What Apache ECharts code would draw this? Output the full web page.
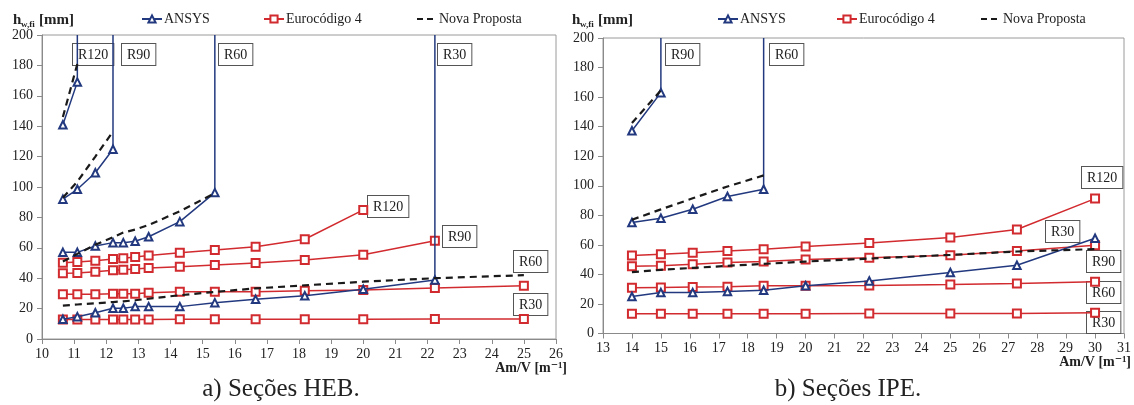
<!DOCTYPE html>
<html><head><meta charset="utf-8">
<script src="https://cdn.jsdelivr.net/npm/echarts@6/dist/echarts.min.js"></script>
<style>html,body{margin:0;padding:0;background:#fff}#c{width:1134px;height:405px}</style>
</head><body><div id="c"></div>
<script>
// ---------- DATA ----------
// a) HEB sections (Am/V in m^-1, h_w,fi in mm)
const hebX = [10.65, 11.1, 11.66, 12.21, 12.53, 12.9, 13.32, 14.29, 15.38, 16.65, 18.18, 20.0, 22.23, 25.0];
const hebEuroR30  = [12.9, 12.9, 12.9, 12.9, 12.9, 12.9, 12.9, 13.0, 13.0, 13.0, 13.0, 13.0, 13.1, 13.1];
const hebEuroR60  = [29.4, 29.4, 29.5, 29.7, 29.7, 29.8, 30.5, 31.1, 31.1, 31.1, 31.8, 32.2, 33.5, 35.1];
const hebEuroR90  = [43.2, 43.4, 44.3, 45.2, 45.6, 46.1, 46.7, 47.6, 48.7, 50.0, 52.0, 55.5, 64.7];
const hebEuroR120 = [50.2, 50.7, 51.5, 52.6, 53.1, 53.9, 55.0, 56.8, 58.6, 60.7, 65.6, 84.9];
const hebAnsysR30  = [13.0, 14.7, 17.3, 20.2, 20.2, 21.3, 21.3, 21.3, 23.9, 26.1, 28.5, 32.7, 38.8];
const hebAnsysR60  = [57.0, 57.0, 61.2, 63.4, 63.4, 64.3, 67.3, 77.2, 96.3];
const hebAnsysR90  = [92.0, 98.5, 109.4, 124.8];
const hebAnsysR120 = [141.0, 169.0];
const hebNovaR30  = [22.0, 22.7, 23.5, 24.3, 24.8, 25.5, 26.5, 28.8, 31.0, 33.3, 35.3, 37.7, 40.0, 42.0];
const hebNovaR60  = [51.0, 56.0, 62.0, 67.0, 70.0, 72.0, 75.0, 84.0, 96.0];
const hebNovaR90  = [93.0, 103.5, 120.0, 136.5];
const hebNovaR120 = [146.0, 181.0];

// b) IPE sections
const ipeX = [14.0, 15.0, 16.1, 17.3, 18.55, 20.0, 22.2, 25.0, 27.3, 30.0];
const ipeEuroR30  = [13.3, 13.3, 13.4, 13.4, 13.4, 13.4, 13.5, 13.6, 13.6, 14.0];
const ipeEuroR60  = [30.9, 31.2, 31.4, 31.6, 32.3, 32.3, 32.5, 33.1, 33.8, 35.0];
const ipeEuroR90  = [45.6, 45.9, 46.9, 48.0, 48.7, 50.1, 51.2, 53.0, 55.9, 59.8];
const ipeEuroR120 = [52.8, 53.7, 54.6, 55.9, 57.1, 58.9, 61.3, 65.0, 70.4, 91.3];
const ipeAnsysR30 = [25.0, 27.7, 27.7, 28.4, 29.3, 32.3, 35.6, 41.3, 46.2, 64.5];
const ipeAnsysR60 = [75.1, 78.0, 84.1, 92.7, 97.6];
const ipeAnsysR90 = [137.2, 163.0];
const ipeNovaR30  = [41.5, 43.1, 44.4, 45.8, 47.1, 48.7, 50.7, 53.2, 55.5, 57.1];
const ipeNovaR60  = [77.0, 84.0, 91.5, 99.5, 107.0];
const ipeNovaR90  = [142.5, 164.5];

// ANSYS curves rise vertically to the top of the axis (200 mm)
const ansysCap = 200;

const hebXAxis = {min: 10, max: 26, interval: 1};
const ipeXAxis = {min: 13, max: 31, interval: 1};
const yAxisRange = {min: 0, max: 200, interval: 20};

const legendNames = ['ANSYS', 'Eurocódigo 4', 'Nova Proposta'];
const captions = ['a) Seções HEB.', 'b) Seções IPE.'];
const xTitle = 'Am/V [m⁻¹]';

// ---------- STYLE ----------
const NAVY = '#22397f', RED = '#d22b2f', BLACK = '#1a1a1a';
const FONT = '"Liberation Serif", "DejaVu Serif", serif';

function ser(kind, xs, ys, gi, cap) {
  const data = ys.map((y, i) => [xs[i], y]);
  if (cap !== undefined) data.push({value: [xs[ys.length - 1], cap], symbol: 'none'});
  const base = {type: 'line', xAxisIndex: gi, yAxisIndex: gi, data, animation: false, silent: true};
  if (kind === 'ansys') return Object.assign(base, {
    name: 'ANSYS', symbol: 'emptyTriangle', symbolSize: 7.5, z: 4,
    lineStyle: {color: NAVY, width: 1.5}, itemStyle: {color: NAVY, borderWidth: 1.3}});
  if (kind === 'euro') return Object.assign(base, {
    name: 'Eurocódigo 4', symbol: 'emptyRect', symbolSize: 8, z: 3,
    lineStyle: {color: RED, width: 1.5}, itemStyle: {color: RED, borderWidth: 1.3}});
  return Object.assign(base, {
    name: 'Nova Proposta', symbol: 'none', z: 5,
    lineStyle: {color: BLACK, width: 2.2, type: [7, 5]}, itemStyle: {color: BLACK}});
}

const series = [
  ser('euro', hebX, hebEuroR30, 0), ser('euro', hebX, hebEuroR60, 0),
  ser('euro', hebX, hebEuroR90, 0), ser('euro', hebX, hebEuroR120, 0),
  ser('ansys', hebX, hebAnsysR30, 0, ansysCap), ser('ansys', hebX, hebAnsysR60, 0, ansysCap),
  ser('ansys', hebX, hebAnsysR90, 0, ansysCap), ser('ansys', hebX, hebAnsysR120, 0, ansysCap),
  ser('nova', hebX, hebNovaR30, 0), ser('nova', hebX, hebNovaR60, 0),
  ser('nova', hebX, hebNovaR90, 0), ser('nova', hebX, hebNovaR120, 0),
  ser('euro', ipeX, ipeEuroR30, 1), ser('euro', ipeX, ipeEuroR60, 1),
  ser('euro', ipeX, ipeEuroR90, 1), ser('euro', ipeX, ipeEuroR120, 1),
  ser('ansys', ipeX, ipeAnsysR30, 1), ser('ansys', ipeX, ipeAnsysR60, 1, ansysCap),
  ser('ansys', ipeX, ipeAnsysR90, 1, ansysCap),
  ser('nova', ipeX, ipeNovaR30, 1), ser('nova', ipeX, ipeNovaR60, 1), ser('nova', ipeX, ipeNovaR90, 1)
];

function xAx(r, gi) {
  return Object.assign({type: 'value', gridIndex: gi,
    axisLine: {onZero: false, lineStyle: {color: '#8a8a8a'}},
    axisTick: {show: true, length: 5, lineStyle: {color: '#8a8a8a'}},
    axisLabel: {color: '#222', fontFamily: FONT, fontSize: 14, margin: 8},
    splitLine: {show: false}}, r);
}
function yAx(gi) {
  return Object.assign({type: 'value', gridIndex: gi,
    axisLine: {show: true, lineStyle: {color: '#8a8a8a'}},
    axisTick: {show: true, length: 5, lineStyle: {color: '#8a8a8a'}},
    axisLabel: {color: '#222', fontFamily: FONT, fontSize: 14, margin: 9},
    splitLine: {show: false}}, yAxisRange);
}

function legend(name, left) {
  const item = {name};
  if (name === 'Nova Proposta') {
    item.itemStyle = {opacity: 0};
    item.lineStyle = {type: [6, 4], width: 2, color: BLACK};
  }
  return {data: [item], left, top: 12, padding: 0, itemWidth: 20, itemHeight: 9,
    textStyle: {fontFamily: FONT, fontSize: 14, color: '#222', padding: [0, 0, 0, -3]},
    selectedMode: false};
}

function box(text, x, y) {
  return {type: 'text', x, y, z: 1, silent: true,
    style: {text, font: '14px ' + FONT, fill: '#222', backgroundColor: '#fff',
      borderColor: '#555', borderWidth: 1, padding: [3, 5, 2, 5], lineHeight: 16}};
}
function txt(text, x, y, font, align) {
  return {type: 'text', x, y, z: 10, silent: true,
    style: {text, font, fill: '#222', textAlign: align || 'left', textVerticalAlign: 'middle'}};
}

const graphics = [
  // y-axis titles
  txt('h', 13, 20, 'bold 15px ' + FONT), txt('w,fi', 21, 25, 'bold 9px ' + FONT), txt('[mm]', 39, 20, 'bold 15px ' + FONT),
  txt('h', 572, 20, 'bold 15px ' + FONT), txt('w,fi', 580, 25, 'bold 9px ' + FONT), txt('[mm]', 598, 20, 'bold 15px ' + FONT),
  // x-axis titles
  txt(xTitle, 567, 368, 'bold 14px ' + FONT, 'right'),
  txt(xTitle, 1131, 362, 'bold 14px ' + FONT, 'right'),
  // captions
  txt(captions[0], 281, 389, '25px ' + FONT, 'center'),
  txt(captions[1], 848, 389, '25px ' + FONT, 'center'),
  // left chart labels
  box('R120', 73, 44), box('R90', 122, 44), box('R60', 219, 44), box('R30', 438, 44),
  box('R120', 368, 196), box('R90', 443, 226), box('R60', 514, 251), box('R30', 514, 294),
  // right chart labels
  box('R90', 666, 44), box('R60', 770, 44), box('R120', 1082, 167), box('R30', 1046, 221),
  box('R90', 1087, 251), box('R60', 1087, 282), box('R30', 1087, 312)
];

const chart = echarts.init(document.getElementById('c'), null, {renderer: 'canvas'});
chart.setOption({
  backgroundColor: '#fff',
  animation: false,
  grid: [
    {left: 42, right: 578, top: 35, bottom: 66, show: true, borderColor: '#9a9a9a', borderWidth: 1, containLabel: false},
    {left: 603, right: 8, top: 38, bottom: 71.5, show: true, borderColor: '#9a9a9a', borderWidth: 1, containLabel: false}
  ],
  xAxis: [xAx(hebXAxis, 0), xAx(ipeXAxis, 1)],
  yAxis: [yAx(0), yAx(1)],
  legend: [
    legend(legendNames[0], 141), legend(legendNames[1], 263), legend(legendNames[2], 416),
    legend(legendNames[0], 717), legend(legendNames[1], 836), legend(legendNames[2], 980)
  ],
  graphic: {elements: graphics},
  series
});
</script>
</body></html>
